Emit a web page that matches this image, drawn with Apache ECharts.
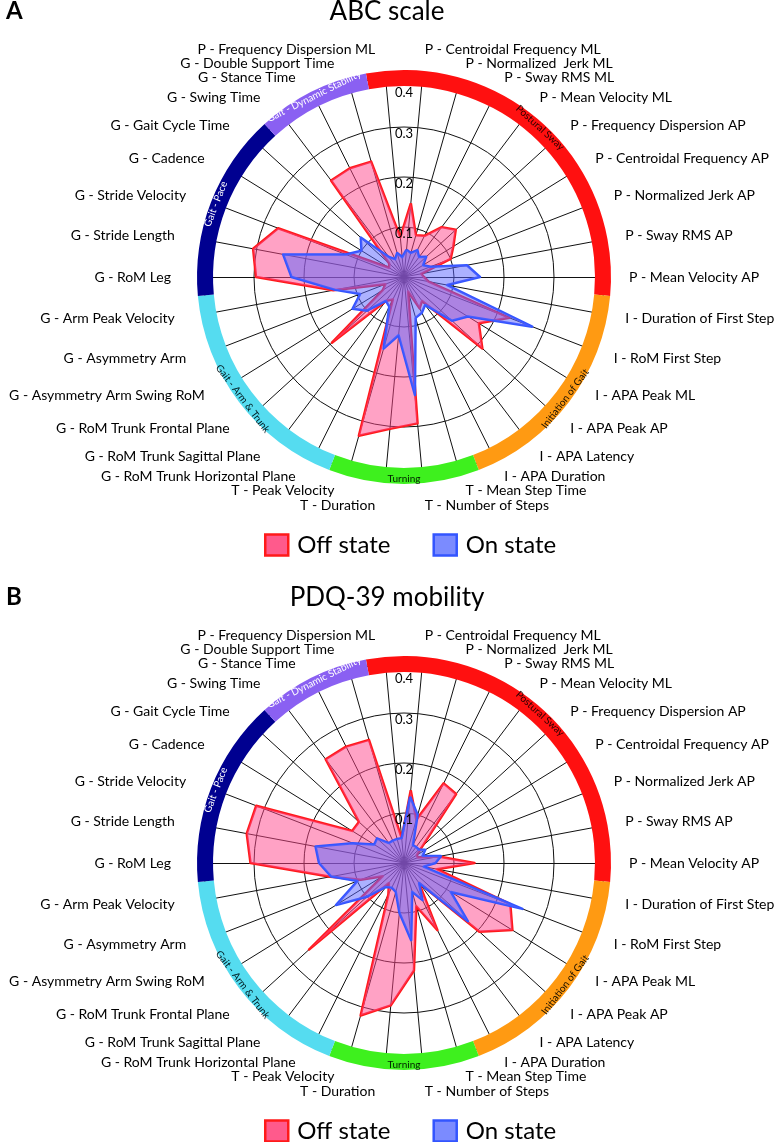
<!DOCTYPE html>
<html><head><meta charset="utf-8">
<script src="https://cdn.jsdelivr.net/npm/echarts@6/dist/echarts.min.js"></script>
<style>html,body{margin:0;padding:0;background:#fff}#c{width:774px;height:1142px}</style>
</head><body><div id="c"></div>
<script>
// Categories in clockwise order, starting just right of 12 o'clock
const categories = [
  'P - Centroidal Frequency ML', 'P - Normalized  Jerk ML', 'P - Sway RMS ML', 'P - Mean Velocity ML',
  'P - Frequency Dispersion AP', 'P - Centroidal Frequency AP', 'P - Normalized Jerk AP', 'P - Sway RMS AP',
  'P - Mean Velocity AP', 'I - Duration of First Step', 'I - RoM First Step', 'I - APA Peak ML',
  'I - APA Peak AP', 'I - APA Latency', 'I - APA Duration', 'T - Mean Step Time', 'T - Number of Steps',
  'T - Duration', 'T - Peak Velocity', 'G - RoM Trunk Horizontal Plane', 'G - RoM Trunk Sagittal Plane',
  'G - RoM Trunk Frontal Plane', 'G - Asymmetry Arm Swing RoM', 'G - Asymmetry Arm', 'G - Arm Peak Velocity',
  'G - RoM Leg', 'G - Stride Length', 'G - Stride Velocity', 'G - Cadence', 'G - Gait Cycle Time',
  'G - Swing Time', 'G - Stance Time', 'G - Double Support Time', 'P - Frequency Dispersion ML'
];
const groups = ['Postural Sway', 'Initiation of Gait', 'Turning', 'Gait - Arm & Trunk', 'Gait - Pace', 'Gait - Dynamic Stability'];
const groupSizes = [10, 6, 4, 6, 5, 3];
const tickValues = [0.1, 0.2, 0.3, 0.4];
const panelTitles = ['ABC scale', 'PDQ-39 mobility'];
const panelLetters = ['A', 'B'];
const seriesNames = ['Off state', 'On state'];

const abcOff = [0.148, 0.087, 0.092, 0.125, 0.14, 0.116, 0.10, 0.035, 0.04, 0.05, 0.226, 0.176, 0.212, 0.06, 0.07, 0.03, 0.294, 0.305, 0.33, 0.05, 0.06, 0.195, 0.05, 0.04, 0.144, 0.296, 0.307, 0.27, 0.035, 0.04, 0.242, 0.243, 0.24, 0.08];
const abcOn = [0.055, 0.05, 0.06, 0.05, 0.06, 0.045, 0.057, 0.128, 0.152, 0.088, 0.275, 0.15, 0.13, 0.07, 0.08, 0.085, 0.237, 0.117, 0.149, 0.066, 0.06, 0.1, 0.121, 0.094, 0.14, 0.225, 0.246, 0.125, 0.1, 0.117, 0.05, 0.04, 0.05, 0.04];
const pdqOff = [0.146, 0.09, 0.178, 0.173, 0.05, 0.03, 0.03, 0.07, 0.141, 0.067, 0.228, 0.255, 0.204, 0.05, 0.15, 0.09, 0.216, 0.286, 0.317, 0.07, 0.05, 0.257, 0.05, 0.093, 0.15, 0.307, 0.32, 0.317, 0.122, 0.122, 0.26, 0.26, 0.256, 0.05];
const pdqOn = [0.133, 0.1, 0.04, 0.04, 0.04, 0.05, 0.04, 0.075, 0.063, 0.04, 0.254, 0.11, 0.173, 0.05, 0.083, 0.06, 0.155, 0.1, 0.06, 0.055, 0.06, 0.1, 0.16, 0.1, 0.148, 0.17, 0.18, 0.11, 0.07, 0.073, 0.05, 0.05, 0.05, 0.05];

const panels = [[abcOff, abcOn], [pdqOff, pdqOn]];

// ---------- styling / layout ----------
const FONT = 'Lato';
const CX = 404, CY = [277, 863], R = 200, MAXV = 0.4;
const groupColors = ['#ff1010', '#ff9a12', '#3ef01e', '#55dcf0', '#000090', '#8a60f2'];
const groupTextColors = ['#2a0000', '#1a1000', '#002000', '#001a20', '#ffffff', '#ffffff'];
const lineColors = ['#ff1a1a', '#3355ff'];
const areaColors = ['rgba(255,70,140,0.5)', 'rgba(90,100,255,0.5)'];
const legendFill = ['#ff5a8c', '#7b8bff'];

const n = categories.length;
const step = 360 / n;
// ECharts radar lays indicators counter-clockwise; reorder to get clockwise
const order = categories.map((_, k) => (n - k) % n);
// vertical nudges of the outer names (pixels, + = down) near top and bottom, to spread them
const nameNudge = { 0: -3.5, 33: -3.5, 1: 2.5, 32: 2.5, 2: 1.5, 31: 1.5, 16: 4, 17: 4, 15: -2.7, 18: -2.7, 14: -1.8, 19: -1.8 };
const nameRich = {};
categories.forEach((c, i) => {
  const d = nameNudge[i] || 0;
  const left = i >= n / 2;
  nameRich['k' + i] = {
    color: '#000', fontFamily: FONT, fontSize: 14,
    padding: [d > 0 ? 2 * d : 0, left ? 8 : 0, d < 0 ? -2 * d : 0, 0]
  };
});
const nameIndex = {};
categories.forEach((c, i) => { nameIndex[c] = i; });

const option = {
  animation: false,
  backgroundColor: '#fff',
  title: [], radar: [], polar: [], angleAxis: [], radiusAxis: [], legend: [], series: []
};

panels.forEach((vals, p) => {
  const cy = CY[p];
  const dy = cy - CY[0];
  option.title.push({
    text: panelTitles[p], left: 'center', top: -6 + dy,
    textStyle: { fontFamily: FONT, fontSize: 26, fontWeight: 'normal', color: '#000' }
  });
  option.title.push({
    text: panelLetters[p], left: 1, top: -6 + dy,
    textStyle: { fontFamily: FONT, fontSize: 24, fontWeight: 'bold', color: '#000' }
  });
  option.radar.push({
    center: [CX, cy], radius: R, startAngle: 90 - step / 2,
    shape: 'circle', splitNumber: 4,
    indicator: order.map(i => ({ name: categories[i], min: 0, max: MAXV })),
    axisNameGap: 25,
    axisName: {
      color: '#000', fontFamily: FONT, fontSize: 14,
      formatter: (name) => '{k' + nameIndex[name] + '|' + name + '}',
      rich: nameRich
    },
    axisLine: { lineStyle: { color: '#111', width: 1 } },
    splitLine: { lineStyle: { color: '#111', width: 1 } },
    splitArea: { show: false },
    axisTick: { show: false }, axisLabel: { show: false }
  });
  option.polar.push({ center: [CX, cy], radius: R });
  option.angleAxis.push({ polarIndex: p, type: 'value', show: false, startAngle: 90, min: 0, max: 360 });
  option.radiusAxis.push({
    polarIndex: p, type: 'value', min: 0, max: MAXV, interval: 0.1, z: 5,
    axisLine: { show: false }, axisTick: { show: false }, splitLine: { show: false },
    axisLabel: {
      margin: 0, align: 'center', verticalAlign: 'top',
      formatter: (v) => {
        const t = tickValues.find(x => Math.abs(x - v) < 1e-9);
        if (t === undefined) return '';
        return t === MAXV ? '{b|' + t.toFixed(1) + '}' : '{a|' + t.toFixed(1) + '}';
      },
      rich: {
        a: { fontFamily: FONT, fontSize: 13, color: '#000', padding: [0, 0, 0, 0] },
        b: { fontFamily: FONT, fontSize: 13, color: '#000', padding: [9, 0, 0, 0] }
      }
    }
  });
  // category ring
  option.series.push({
    type: 'pie', center: [CX, cy], radius: [191, 207], silent: true, z: 4,
    startAngle: 90 + step, clockwise: true, avoidLabelOverlap: false,
    itemStyle: { borderWidth: 0 },
    label: { position: 'inside', rotate: 'tangential', fontFamily: FONT, fontSize: 10 },
    labelLine: { show: false },
    data: groups.map((g, i) => ({
      name: g, value: groupSizes[i],
      itemStyle: { color: groupColors[i] },
      label: { color: groupTextColors[i] }
    }))
  });
  vals.forEach((arr, s) => {
    option.series.push({
      type: 'radar', radarIndex: p, name: seriesNames[s], symbol: 'none', z: 2 + s,
      lineStyle: { color: lineColors[s], width: 2.5 },
      areaStyle: { color: areaColors[s], opacity: 1 },
      itemStyle: { color: lineColors[s] },
      data: [{ name: seriesNames[s], value: order.map(i => arr[i]) }]
    });
  });
  option.legend.push({
    left: 259, top: 528 + dy, itemWidth: 23, itemHeight: 21, itemGap: 42, icon: 'rect',
    textStyle: { fontFamily: FONT, fontSize: 24, color: '#000', padding: [0, 0, 0, 4] },
    data: seriesNames.map((nm, s) => ({
      name: nm, icon: 'rect',
      itemStyle: { color: legendFill[s], borderColor: lineColors[s], borderWidth: 2.5 }
    }))
  });
});

const chart = echarts.init(document.getElementById('c'), null, { renderer: 'canvas' });
chart.setOption(option);
</script></body></html>
